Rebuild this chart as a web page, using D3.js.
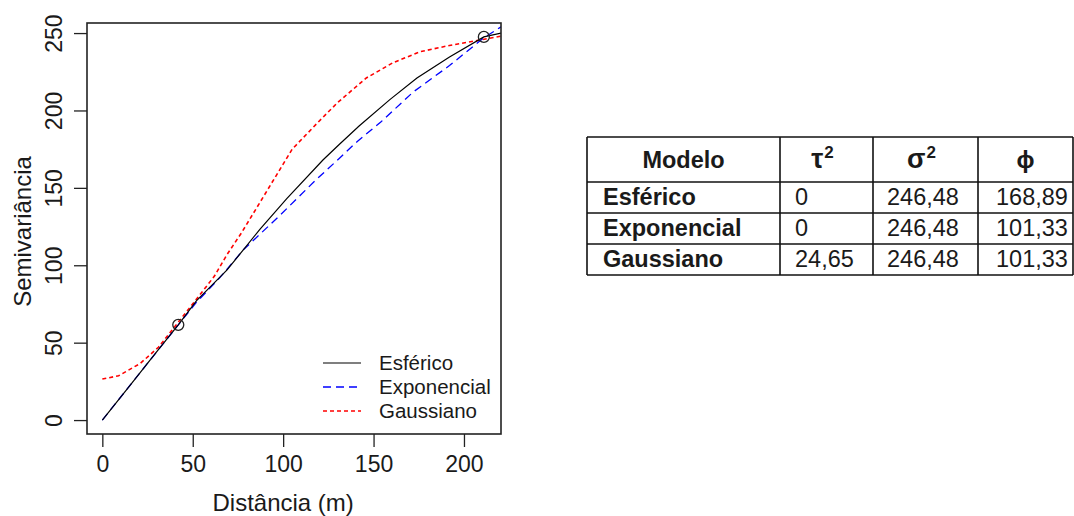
<!DOCTYPE html>
<html lang="pt">
<head>
    <meta charset="UTF-8">
    <title>Semivariograma</title>
    <script src="https://d3js.org/d3.v7.min.js"></script>
    <style>
        body { margin: 0; background: #fff; }
        svg text { font-family: "Liberation Sans", Arial, sans-serif; fill: #1a1a1a; }
    </style>
</head>
<body>
<div id="chart"></div>
<script>
    // curve values (distance in m, semivariance)
    const esfericoX = [0, 15, 30, 42, 52, 69, 87, 102, 122, 131, 142, 159, 174, 192, 211, 220.5];
    const esfericoY = [0, 22, 44, 61.5, 77, 97, 123, 143, 168, 178, 190, 207, 221, 234.5, 247.5, 250];

    const exponencialX = [0, 15, 30, 42, 52, 65, 78, 98, 118, 131, 141, 154, 172, 192, 211, 220.5];
    const exponencialY = [0, 22, 44, 61.5, 76, 92, 110, 132, 155, 169, 180, 192.5, 212, 229, 247, 254];

    const gaussianoX = [0, 9, 21, 31, 41.5, 52, 62, 69, 77, 91, 105, 119, 130, 146, 161, 176, 192, 209, 220.5];
    const gaussianoY = [26.5, 28.6, 36.6, 47, 62.5, 78, 93, 107, 121, 148, 175, 192, 205, 221, 231, 238, 242, 245.5, 248];

    const pointsX = [42, 211];
    const pointsY = [61.5, 247.5];

    const xTicks = [0, 50, 100, 150, 200];
    const yTicks = [0, 50, 100, 150, 200, 250];

    const legendLabels = ['Esférico', 'Exponencial', 'Gaussiano'];

    // parameter table
    const tableHeader = ['Modelo', 'τ', 'σ', 'ϕ'];
    const modelos = ['Esférico', 'Exponencial', 'Gaussiano'];
    const tau2 = ['0', '0', '24,65'];
    const sigma2 = ['246,48', '246,48', '246,48'];
    const phi = ['168,89', '101,33', '101,33'];

    const width = 1074, height = 516;
    const box = { left: 87, right: 501, top: 23, bottom: 434 };

    const svg = d3.select('#chart').append('svg')
        .attr('width', width)
        .attr('height', height);

    const x = d3.scaleLinear().domain([-8.48, 220.48]).range([box.left, box.right]);
    const y = d3.scaleLinear().domain([-9, 256.5]).range([box.bottom, box.top]);

    svg.append('clipPath').attr('id', 'plotClip')
        .append('rect')
        .attr('x', box.left).attr('y', box.top)
        .attr('width', box.right - box.left).attr('height', box.bottom - box.top);

    // axes
    const xAxis = svg.append('g')
        .attr('transform', `translate(0,${box.bottom})`)
        .call(d3.axisBottom(x).tickValues(xTicks).tickSize(13).tickSizeOuter(0).tickPadding(9));
    xAxis.select('.domain').remove();
    xAxis.selectAll('line').attr('stroke', '#222').attr('stroke-width', 1.3);
    xAxis.selectAll('text').attr('font-size', 23).attr('fill', '#1a1a1a')
        .attr('font-family', '"Liberation Sans", Arial, sans-serif');

    const yAxis = svg.append('g')
        .attr('transform', `translate(${box.left},0)`)
        .call(d3.axisLeft(y).tickValues(yTicks).tickSize(13).tickSizeOuter(0));
    yAxis.select('.domain').remove();
    yAxis.selectAll('line').attr('stroke', '#222').attr('stroke-width', 1.3);
    yAxis.selectAll('text')
        .attr('font-size', 23).attr('fill', '#1a1a1a')
        .attr('font-family', '"Liberation Sans", Arial, sans-serif')
        .attr('text-anchor', 'middle')
        .attr('dy', 0)
        .attr('x', 0)
        .attr('transform', `translate(${62 - box.left},0) rotate(-90)`);

    svg.append('text')
        .attr('x', (x(0) + x(200)) / 2)
        .attr('y', 511)
        .attr('text-anchor', 'middle')
        .attr('font-size', 24)
        .text('Distância (m)');

    svg.append('text')
        .attr('transform', `translate(31,${(box.top + box.bottom) / 2 + 3}) rotate(-90)`)
        .attr('text-anchor', 'middle')
        .attr('font-size', 24)
        .text('Semivariância');

    // curves
    const line = d3.line().x(d => x(d[0])).y(d => y(d[1]));
    const plot = svg.append('g').attr('clip-path', 'url(#plotClip)');

    const series = [
        { xs: gaussianoX, ys: gaussianoY, color: '#ff0000', dash: '4,3', w: 1.6 },
        { xs: exponencialX, ys: exponencialY, color: '#0000ff', dash: '8,5', w: 1.3 },
        { xs: esfericoX, ys: esfericoY, color: '#000000', dash: null, w: 1.2 }
    ];

    series.forEach(s => {
        plot.append('path')
            .datum(d3.zip(s.xs, s.ys))
            .attr('d', line)
            .attr('fill', 'none')
            .attr('stroke', s.color)
            .attr('stroke-width', s.w)
            .attr('stroke-dasharray', s.dash);
    });

    plot.selectAll('circle.pt')
        .data(d3.zip(pointsX, pointsY))
        .join('circle')
        .attr('class', 'pt')
        .attr('cx', d => x(d[0]))
        .attr('cy', d => y(d[1]))
        .attr('r', 5.5)
        .attr('fill', 'none')
        .attr('stroke', '#222')
        .attr('stroke-width', 1.3);

    // box
    svg.append('rect')
        .attr('x', box.left).attr('y', box.top)
        .attr('width', box.right - box.left).attr('height', box.bottom - box.top)
        .attr('fill', 'none')
        .attr('stroke', '#222')
        .attr('stroke-width', 1.6);

    // legend
    const legendStyles = [series[2], series[1], series[0]];
    const legend = svg.append('g');
    legendLabels.forEach((lab, i) => {
        const ly = 363 + i * 24;
        legend.append('line')
            .attr('x1', 323).attr('x2', 361)
            .attr('y1', ly).attr('y2', ly)
            .attr('stroke', legendStyles[i].color)
            .attr('stroke-width', legendStyles[i].w)
            .attr('stroke-dasharray', legendStyles[i].dash);
        legend.append('text')
            .attr('x', 379).attr('y', ly)
            .attr('dy', '0.36em')
            .attr('font-size', 20.5)
            .text(lab);
    });

    // table
    const colX = [587, 780, 873, 978, 1073];
    const rowY = [137, 182, 213, 244, 275];
    const table = svg.append('g');

    rowY.forEach(ry => {
        table.append('line')
            .attr('x1', colX[0]).attr('x2', colX[colX.length - 1])
            .attr('y1', ry).attr('y2', ry)
            .attr('stroke', '#111').attr('stroke-width', 1.6);
    });
    colX.forEach(cx => {
        table.append('line')
            .attr('x1', cx).attr('x2', cx)
            .attr('y1', rowY[0]).attr('y2', rowY[rowY.length - 1])
            .attr('stroke', '#111').attr('stroke-width', 1.6);
    });

    tableHeader.forEach((h, i) => {
        const t = table.append('text')
            .attr('x', (colX[i] + colX[i + 1]) / 2 + (i === 1 || i === 2 ? -4 : 0))
            .attr('y', 168)
            .attr('text-anchor', 'middle')
            .attr('font-size', i === 0 ? 23.5 : 27)
            .attr('font-weight', 'bold')
            .text(h);
        if (i === 3) t.attr('font-family', '"DejaVu Sans", sans-serif').attr('font-size', 24);
        if (i === 1 || i === 2) {
            t.append('tspan')
                .attr('dy', -10)
                .attr('dx', 1)
                .attr('font-size', 17)
                .text('2');
        }
    });

    const rows = d3.zip(modelos, tau2, sigma2, phi);
    const pads = [16, 15, 14, 18];
    rows.forEach((r, j) => {
        r.forEach((v, i) => {
            table.append('text')
                .attr('x', colX[i] + pads[i])
                .attr('y', rowY[j + 1] + 23)
                .attr('font-size', 23.5)
                .attr('font-weight', i === 0 ? 'bold' : 'normal')
                .text(v);
        });
    });
</script>
</body>
</html>
